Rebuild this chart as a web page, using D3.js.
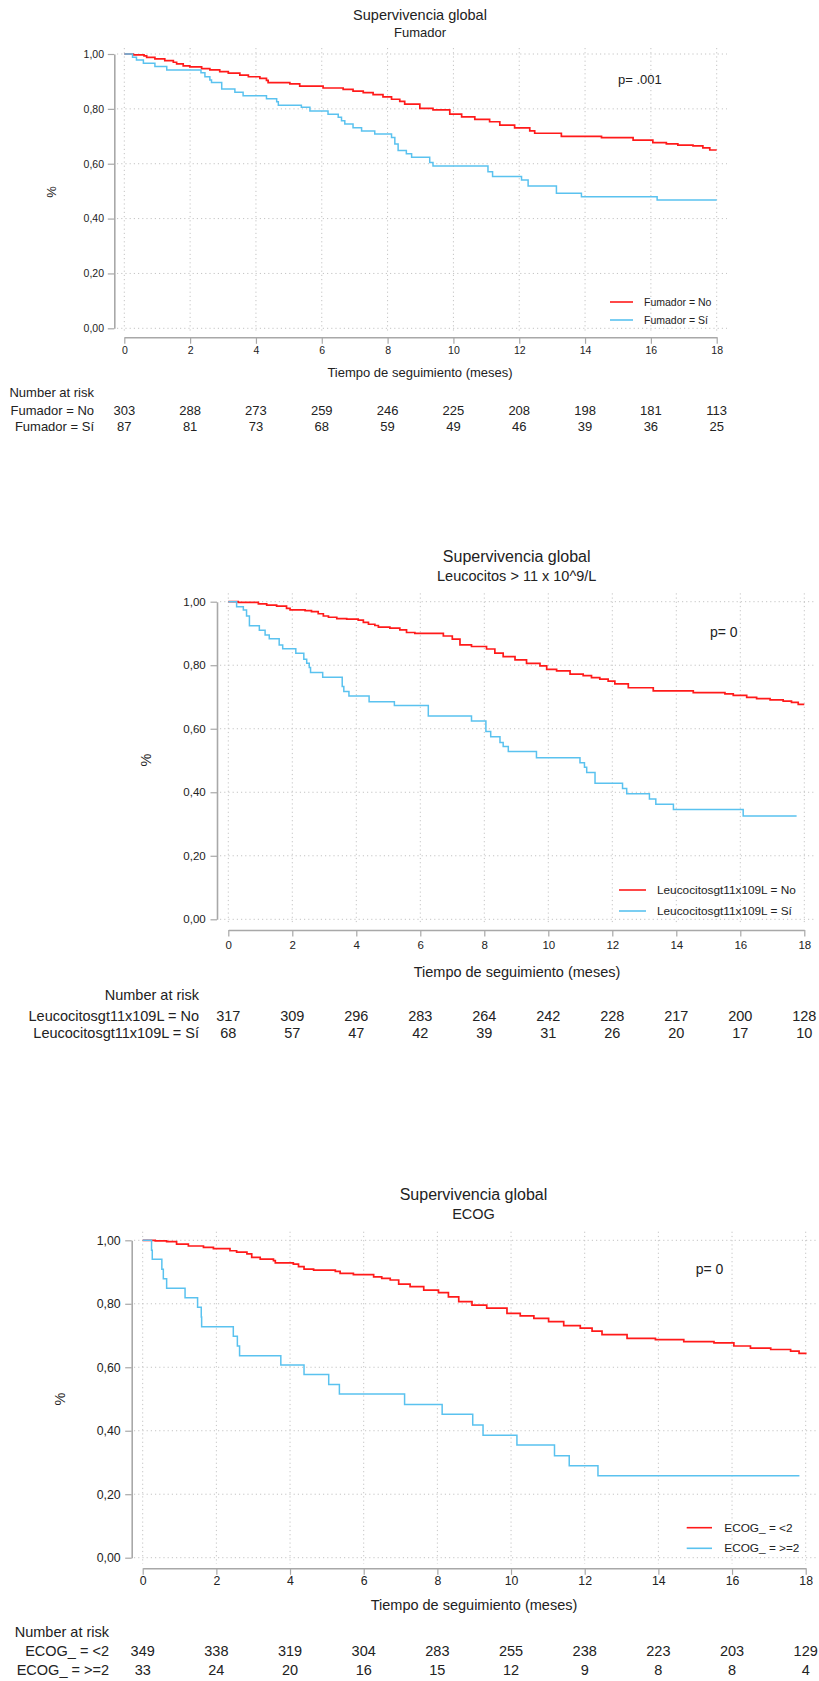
<!DOCTYPE html>
<html>
<head>
<meta charset="utf-8">
<script src="https://cdn.jsdelivr.net/npm/d3@7"></script>
<style>
  body { margin: 0; background: #fff; }
  svg { display: block; }
  text { font-family: "Liberation Sans", Arial, sans-serif; fill: #222; }
</style>
</head>
<body>
<div class="chart"></div>
<script>
// Kaplan-Meier curves: [months, survival]
const fumadorNo = [[0,1],[0.27,0.997],[0.6,0.993],[0.68,0.988],[0.93,0.982],[1.23,0.976],[1.49,0.970],[1.59,0.964],[1.79,0.957],[1.99,0.953],[2.35,0.947],[2.6,0.942],[2.9,0.936],[3.16,0.930],[3.51,0.923],[3.77,0.917],[4.12,0.911],[4.32,0.904],[4.37,0.896],[5.03,0.891],[5.33,0.883],[6.04,0.876],[6.65,0.871],[6.95,0.865],[7.26,0.859],[7.56,0.852],[7.86,0.844],[8.12,0.835],[8.37,0.827],[8.52,0.817],[8.98,0.802],[9.38,0.796],[9.89,0.781],[10.25,0.771],[10.65,0.762],[11.1,0.753],[11.41,0.741],[11.86,0.731],[12.32,0.720],[12.47,0.711],[13.28,0.700],[14.5,0.695],[15.46,0.686],[16.06,0.677],[16.47,0.672],[16.82,0.668],[17.28,0.665],[17.58,0.658],[17.79,0.650],[18,0.650]];
const fumadorSi = [[0,1],[0.25,0.988],[0.37,0.978],[0.58,0.966],[0.93,0.954],[1.29,0.942],[2.33,0.932],[2.45,0.917],[2.6,0.905],[2.65,0.896],[2.96,0.872],[3.36,0.861],[3.61,0.848],[4.32,0.837],[4.63,0.826],[4.68,0.813],[5.38,0.806],[5.64,0.792],[6.19,0.780],[6.5,0.769],[6.6,0.757],[6.7,0.745],[6.95,0.731],[7.21,0.719],[7.61,0.708],[8.12,0.696],[8.22,0.672],[8.32,0.648],[8.57,0.636],[8.73,0.624],[9.28,0.604],[9.38,0.592],[11.05,0.571],[11.19,0.553],[12.07,0.541],[12.27,0.519],[13.13,0.492],[13.89,0.480],[16.19,0.468],[18,0.468]];

const leucoNo = [[0,1],[0.31,0.998],[0.94,0.993],[1.2,0.989],[1.51,0.986],[1.82,0.979],[1.93,0.974],[2.4,0.972],[2.6,0.969],[2.81,0.962],[2.97,0.955],[3.13,0.951],[3.39,0.947],[3.7,0.945],[4.06,0.942],[4.22,0.935],[4.38,0.929],[4.58,0.925],[4.69,0.920],[5.05,0.917],[5.36,0.911],[5.57,0.903],[5.83,0.900],[6.72,0.892],[7.0,0.882],[7.24,0.864],[7.6,0.859],[8.07,0.851],[8.33,0.838],[8.59,0.827],[8.96,0.817],[9.32,0.806],[9.74,0.798],[9.95,0.787],[10.26,0.782],[10.68,0.772],[11.09,0.767],[11.35,0.761],[11.61,0.756],[11.87,0.750],[12.08,0.741],[12.5,0.729],[13.28,0.719],[14.53,0.714],[15.52,0.710],[15.78,0.705],[16.2,0.699],[16.51,0.695],[16.93,0.691],[17.34,0.687],[17.6,0.683],[17.81,0.677],[18,0.677]];
const leucoSi = [[0,1],[0.26,0.984],[0.47,0.974],[0.57,0.955],[0.66,0.924],[0.97,0.910],[1.15,0.895],[1.28,0.883],[1.59,0.864],[1.7,0.852],[2.11,0.838],[2.36,0.819],[2.45,0.806],[2.53,0.793],[2.57,0.777],[2.95,0.762],[3.56,0.733],[3.61,0.717],[3.77,0.703],[4.4,0.685],[5.19,0.673],[6.25,0.640],[7.6,0.624],[8.05,0.591],[8.2,0.575],[8.49,0.557],[8.59,0.544],[8.75,0.528],[9.63,0.509],[10.99,0.493],[11.13,0.479],[11.2,0.462],[11.46,0.428],[12.32,0.412],[12.45,0.395],[13.16,0.379],[13.36,0.362],[13.91,0.346],[16.09,0.325],[17.76,0.325]];

const ecogLt2 = [[0,1],[0.34,0.998],[0.65,0.996],[0.92,0.988],[1.24,0.982],[1.65,0.978],[1.92,0.974],[2.37,0.967],[2.55,0.963],[2.83,0.957],[2.96,0.946],[3.19,0.941],[3.55,0.936],[3.6,0.929],[4.09,0.925],[4.23,0.917],[4.38,0.909],[4.64,0.906],[5.23,0.902],[5.36,0.896],[5.72,0.892],[6.27,0.885],[6.49,0.880],[6.72,0.875],[6.95,0.862],[7.26,0.854],[7.63,0.843],[8.03,0.835],[8.3,0.822],[8.58,0.807],[8.94,0.796],[9.34,0.786],[9.89,0.770],[10.25,0.762],[10.62,0.754],[11.02,0.744],[11.43,0.731],[11.88,0.723],[12.2,0.714],[12.47,0.703],[13.15,0.691],[13.92,0.687],[14.69,0.681],[15.51,0.677],[16.05,0.667],[16.5,0.660],[17.05,0.656],[17.59,0.651],[17.82,0.644],[18,0.641]];
const ecogGe2 = [[0,1],[0.24,0.969],[0.26,0.940],[0.52,0.909],[0.56,0.879],[0.65,0.849],[1.15,0.819],[1.49,0.789],[1.59,0.758],[1.6,0.728],[2.46,0.698],[2.57,0.667],[2.63,0.636],[3.75,0.607],[4.38,0.577],[5.05,0.546],[5.34,0.516],[7.11,0.483],[8.13,0.452],[8.96,0.418],[9.24,0.386],[10.16,0.355],[11.18,0.321],[11.58,0.290],[12.36,0.258],[17.83,0.258]];

// Number at risk tables
const fumadorNoRisk = [303,288,273,259,246,225,208,198,181,113];
const fumadorSiRisk = [87,81,73,68,59,49,46,39,36,25];
const leucoNoRisk = [317,309,296,283,264,242,228,217,200,128];
const leucoSiRisk = [68,57,47,42,39,31,26,20,17,10];
const ecogLt2Risk = [349,338,319,304,283,255,238,223,203,129];
const ecogGe2Risk = [33,24,20,16,15,12,9,8,8,4];

// Tick values
const xTicks = [0,2,4,6,8,10,12,14,16,18];
const yTicks = [0,0.2,0.4,0.6,0.8,1];

const width = 819;
const height = 1681;
const red = '#ff1a1a';
const blue = '#5ac2ef';

const comma = d3.formatLocale({decimal: ',', thousands: '.', grouping: [3], currency: ['', '']}).format('.2f');

const svg = d3.select('.chart')
    .append('svg')
    .attr('width', width)
    .attr('height', height);

// Layout of each of the three panels (they come from different sized images)
const panels = [
  {
    title: 'Supervivencia global', subtitle: 'Fumador', pval: 'p= .001',
    curves: [fumadorNo, fumadorSi], risk: [fumadorNoRisk, fumadorSiRisk],
    labels: ['Fumador = No', 'Fumador = Sí'],
    x0: 124.3, x1: 716.7, yTop: 54, yBot: 328.3, axisX: 114.3, axisY: 337.3,
    grid: {l: 117, r: 727, t: 48, b: 333},
    tickFont: 10.5, yPad: 3.8, xLabY: 350.7,
    titleX: 420, titleY: 15, titleFont: 14.5, subY: 32, subFont: 13,
    pctX: 51, pctY: 192, axTitleX: 420, axTitleY: 372, axFont: 13,
    pX: 618, pY: 79, pFont: 13,
    legX: [610, 633], legY: [302, 320], legTextX: 644, legFont: 10.5,
    riskX: 94, riskY: [392.7, 410, 426.7], riskFont: 13
  },
  {
    title: 'Supervivencia global', subtitle: 'Leucocitos > 11 x 10^9/L', pval: 'p= 0',
    curves: [leucoNo, leucoSi], risk: [leucoNoRisk, leucoSiRisk],
    labels: ['Leucocitosgt11x109L = No', 'Leucocitosgt11x109L = Sí'],
    x0: 228.3, x1: 804.3, yTop: 601.7, yBot: 919.3, axisX: 217, axisY: 930,
    grid: {l: 220, r: 815, t: 593.3, b: 925},
    tickFont: 11.5, yPad: 4.8, xLabY: 945,
    titleX: 516.7, titleY: 556, titleFont: 16, subY: 576, subFont: 14.5,
    pctX: 146, pctY: 760, axTitleX: 517, axTitleY: 972, axFont: 14.5,
    pX: 710, pY: 631.7, pFont: 14,
    legX: [619, 646], legY: [890, 911], legTextX: 657, legFont: 11.8,
    riskX: 199, riskY: [995, 1015.5, 1032.5], riskFont: 14.5
  },
  {
    title: 'Supervivencia global', subtitle: 'ECOG', pval: 'p= 0',
    curves: [ecogLt2, ecogGe2], risk: [ecogLt2Risk, ecogGe2Risk],
    labels: ['ECOG_ = <2', 'ECOG_ = >=2'],
    x0: 142.7, x1: 805.7, yTop: 1240.3, yBot: 1557.7, axisX: 131.7, axisY: 1568.3,
    grid: {l: 134, r: 816.7, t: 1231.7, b: 1564},
    tickFont: 12.3, yPad: 4.5, xLabY: 1581,
    titleX: 473.5, titleY: 1194, titleFont: 16, subY: 1214, subFont: 14.5,
    pctX: 60, pctY: 1399, axTitleX: 474, axTitleY: 1605, axFont: 14.5,
    pX: 695.7, pY: 1269, pFont: 14,
    legX: [686.7, 712], legY: [1527.7, 1548.3], legTextX: 724.3, legFont: 11.8,
    riskX: 109, riskY: [1631.7, 1651, 1670], riskFont: 14.5
  }
];

panels.forEach(drawPanel);

function drawPanel(p) {
    const g = svg.append('g');

    const xScale = d3.scaleLinear().domain([0, 18]).range([p.x0, p.x1]);
    const yScale = d3.scaleLinear().domain([0, 1]).range([p.yBot, p.yTop]);

    // dotted grid
    g.selectAll('.hgrid')
        .data(yTicks)
        .enter()
        .append('line')
        .attr('x1', p.grid.l).attr('x2', p.grid.r)
        .attr('y1', d => yScale(d)).attr('y2', d => yScale(d))
        .attr('stroke', '#c4c4c4')
        .attr('stroke-dasharray', '1.2,3');

    g.selectAll('.vgrid')
        .data(xTicks)
        .enter()
        .append('line')
        .attr('x1', d => xScale(d)).attr('x2', d => xScale(d))
        .attr('y1', p.grid.t).attr('y2', p.grid.b)
        .attr('stroke', '#c4c4c4')
        .attr('stroke-dasharray', '1.2,3');

    // axes
    const yAxis = d3.axisLeft(yScale)
        .tickValues(yTicks)
        .tickFormat(comma)
        .tickSize(6.5)
        .tickSizeOuter(0)
        .tickPadding(p.yPad);

    const xAxis = d3.axisBottom(xScale)
        .tickValues(xTicks)
        .tickSize(6.5)
        .tickSizeOuter(0);

    const ya = g.append('g')
        .attr('transform', `translate(${p.axisX},0)`)
        .call(yAxis);

    const xa = g.append('g')
        .attr('transform', `translate(0,${p.axisY})`)
        .call(xAxis);

    [ya, xa].forEach(a => {
        a.select('.domain').attr('stroke', '#a8a8a8').attr('stroke-width', 1.6);
        a.selectAll('.tick line').attr('stroke', '#a8a8a8').attr('stroke-width', 1.2);
        a.selectAll('.tick text')
            .attr('font-family', '"Liberation Sans", Arial, sans-serif')
            .attr('font-size', p.tickFont)
            .attr('fill', '#222');
    });

    xa.selectAll('.tick text')
        .attr('y', p.xLabY - p.axisY)
        .attr('dy', '0.35em');

    // survival curves
    const line = d3.line()
        .x(d => xScale(d[0]))
        .y(d => yScale(d[1]))
        .curve(d3.curveStepAfter);

    const colors = [red, blue];
    p.curves.forEach((c, i) => {
        g.append('path')
            .datum(c)
            .attr('d', line)
            .attr('fill', 'none')
            .attr('stroke', colors[i])
            .attr('stroke-width', i === 0 ? 1.7 : 1.5);
    });

    // titles
    g.append('text')
        .attr('x', p.titleX).attr('y', p.titleY)
        .attr('dy', '0.35em')
        .style('text-anchor', 'middle')
        .attr('font-size', p.titleFont)
        .text(p.title);

    g.append('text')
        .attr('x', p.titleX).attr('y', p.subY)
        .attr('dy', '0.35em')
        .style('text-anchor', 'middle')
        .attr('font-size', p.subFont)
        .text(p.subtitle);

    g.append('text')
        .attr('transform', `translate(${p.pctX},${p.pctY}) rotate(-90)`)
        .attr('dy', '0.35em')
        .style('text-anchor', 'middle')
        .attr('font-size', p.axFont)
        .text('%');

    g.append('text')
        .attr('x', p.axTitleX).attr('y', p.axTitleY)
        .attr('dy', '0.35em')
        .style('text-anchor', 'middle')
        .attr('font-size', p.axFont)
        .text('Tiempo de seguimiento (meses)');

    g.append('text')
        .attr('x', p.pX).attr('y', p.pY)
        .attr('dy', '0.35em')
        .attr('font-size', p.pFont)
        .text(p.pval);

    // legend
    p.labels.forEach((lab, i) => {
        g.append('line')
            .attr('x1', p.legX[0]).attr('x2', p.legX[1])
            .attr('y1', p.legY[i]).attr('y2', p.legY[i])
            .attr('stroke', colors[i])
            .attr('stroke-width', 1.6);
        g.append('text')
            .attr('x', p.legTextX).attr('y', p.legY[i])
            .attr('dy', '0.35em')
            .attr('font-size', p.legFont)
            .text(lab);
    });

    // number at risk table
    g.append('text')
        .attr('x', p.riskX).attr('y', p.riskY[0])
        .attr('dy', '0.35em')
        .style('text-anchor', 'end')
        .attr('font-size', p.riskFont)
        .text('Number at risk');

    p.risk.forEach((row, i) => {
        g.append('text')
            .attr('x', p.riskX).attr('y', p.riskY[i + 1])
            .attr('dy', '0.35em')
            .style('text-anchor', 'end')
            .attr('font-size', p.riskFont)
            .text(p.labels[i]);

        g.selectAll('.risk' + i)
            .data(row)
            .enter()
            .append('text')
            .attr('x', (d, j) => xScale(xTicks[j]))
            .attr('y', p.riskY[i + 1])
            .attr('dy', '0.35em')
            .style('text-anchor', 'middle')
            .attr('font-size', p.riskFont)
            .text(d => d);
    });
}
</script>
</body>
</html>
